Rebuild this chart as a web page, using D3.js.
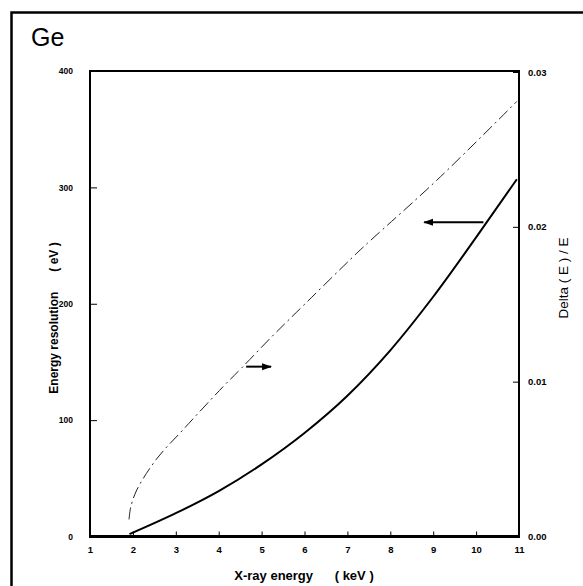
<!DOCTYPE html>
<html><head><meta charset="utf-8">
<script src="https://cdn.jsdelivr.net/npm/d3@7"></script>
<style>
html,body{margin:0;padding:0;background:#fff;}
svg{display:block;font-family:"Liberation Sans",Arial,Helvetica,sans-serif;}
</style></head>
<body>
<script>
// ---- data ----
const xTicks = [1,2,3,4,5,6,7,8,9,10,11];
const leftTicks = [0,100,200,300,400];
const rightTicks = [0,0.01,0.02,0.03];
const rightTickLabels = ["0.00","0.01","0.02","0.03"];

// Energy resolution (eV) vs X-ray energy (keV) - solid line, left axis
const resEnergy = [1.92, 3.0, 4.0, 5.0, 6.0, 7.0, 8.0, 9.0, 10.0, 10.95];
const resValue  = [2, 20, 39, 62, 89, 121, 160, 206, 257, 307];

// Delta(E)/E vs X-ray energy - dash-dot line, right axis
const relEnergy = [1.91, 1.95, 2.09, 2.55, 3.17, 4.11, 4.54, 5.2, 5.82, 7.22, 7.53, 9.08, 10.95];
const relValue  = [0.0011, 0.0019, 0.0030, 0.0050, 0.0069, 0.0097, 0.0109, 0.0128, 0.0145, 0.0183, 0.0191, 0.0230, 0.0281];

// arrows (data units): which axis, x from -> x to, y value
const arrowAxis = ["left", "right"];
const arrowFrom = [10.17, 4.64];
const arrowTo   = [8.79, 5.22];
const arrowY    = [270, 0.01097];

const W = 583, H = 586;
const svg = d3.select("body").append("svg").attr("width", W).attr("height", H);

// outer frame
svg.append("path").attr("d", "M11.5,600 V12.5 H600")
  .attr("fill","none").attr("stroke","#000").attr("stroke-width",2.5);

// title
svg.append("text").attr("x",31).attr("y",46).attr("font-size",25)
  .attr("fill","#000").text("Ge");

const x = d3.scaleLinear().domain([1,11]).range([90,519]);
const yL = d3.scaleLinear().domain([0,400]).range([536.5,71]);
const yR = d3.scaleLinear().domain([0,0.03]).range([536.5,72]);

// axes
const gL = svg.append("g").attr("transform","translate(90,0)")
  .call(d3.axisLeft(yL).tickValues(leftTicks).tickSizeInner(-7).tickSizeOuter(0).tickPadding(17).tickFormat(d3.format("d")));
const gR = svg.append("g").attr("transform","translate(519,0)")
  .call(d3.axisRight(yR).tickValues(rightTicks).tickSizeInner(-6).tickSizeOuter(0).tickPadding(9).tickFormat((d,i)=>rightTickLabels[i]));
const gB = svg.append("g").attr("transform","translate(0,536.5)")
  .call(d3.axisBottom(x).tickValues(xTicks).tickSizeInner(-5).tickSizeOuter(0).tickPadding(10).tickFormat(d3.format("d")));
[gL,gR,gB].forEach(g=>{
  g.select(".domain").remove();
  g.selectAll(".tick line").attr("stroke","#000").attr("stroke-width",1);
  g.selectAll(".tick text").attr("font-size",9.5).attr("font-weight","bold").attr("fill","#000")
    .attr("font-family","'Liberation Sans',Arial,sans-serif");
});
gL.selectAll(".tick text").attr("font-size",8.5);

// plot frame
svg.append("path")
  .attr("d", `M${x(1)},${yL(0)} V${yL(400)} H${x(11)} V${yL(0)}`)
  .attr("fill","none").attr("stroke","#000").attr("stroke-width",2);
svg.append("line").attr("x1",x(1)-1).attr("x2",x(11)+1).attr("y1",yL(0)).attr("y2",yL(0))
  .attr("stroke","#000").attr("stroke-width",3);

// curves
const solid = d3.line().x(d=>x(d[0])).y(d=>yL(d[1])).curve(d3.curveMonotoneX);
svg.append("path").datum(resEnergy.map((e,i)=>[e,resValue[i]]))
  .attr("d",solid).attr("fill","none").attr("stroke","#000").attr("stroke-width",2);

const dash = d3.line().x(d=>x(d[0])).y(d=>yR(d[1])).curve(d3.curveCatmullRom);
svg.append("path").datum(relEnergy.map((e,i)=>[e,relValue[i]]))
  .attr("d",dash).attr("fill","none").attr("stroke","#222").attr("stroke-width",1)
  .attr("stroke-dasharray","12,4,2,4");

// arrows
const defs = svg.append("defs");
defs.append("marker").attr("id","ah").attr("viewBox","0 0 10 10").attr("refX",9).attr("refY",5)
  .attr("markerWidth",10).attr("markerHeight",10).attr("markerUnits","userSpaceOnUse").attr("orient","auto")
  .append("path").attr("d","M0,1.5 L10,5 L0,8.5 Z").attr("fill","#000");
arrowAxis.forEach((a,i)=>{
  const ys = a==="left" ? yL : yR;
  svg.append("line").attr("x1",x(arrowFrom[i])).attr("x2",x(arrowTo[i]))
    .attr("y1",ys(arrowY[i])).attr("y2",ys(arrowY[i]))
    .attr("stroke","#000").attr("stroke-width",2).attr("marker-end","url(#ah)");
});

// axis titles
svg.append("text").attr("x",304).attr("y",580).attr("text-anchor","middle")
  .attr("font-size",13).attr("font-weight","bold")
  .style("white-space","pre").text("X-ray energy      ( keV )");
svg.append("text").attr("transform","translate(58,318) rotate(-90)").attr("text-anchor","middle")
  .attr("font-size",12).attr("font-weight","bold").style("white-space","pre")
  .text("Energy resolution      ( eV )");
svg.append("text").attr("transform","translate(568,278) rotate(-90)").attr("text-anchor","middle")
  .attr("font-size",13.5).style("white-space","pre")
  .text("Delta ( E ) / E");
</script>
</body></html>
